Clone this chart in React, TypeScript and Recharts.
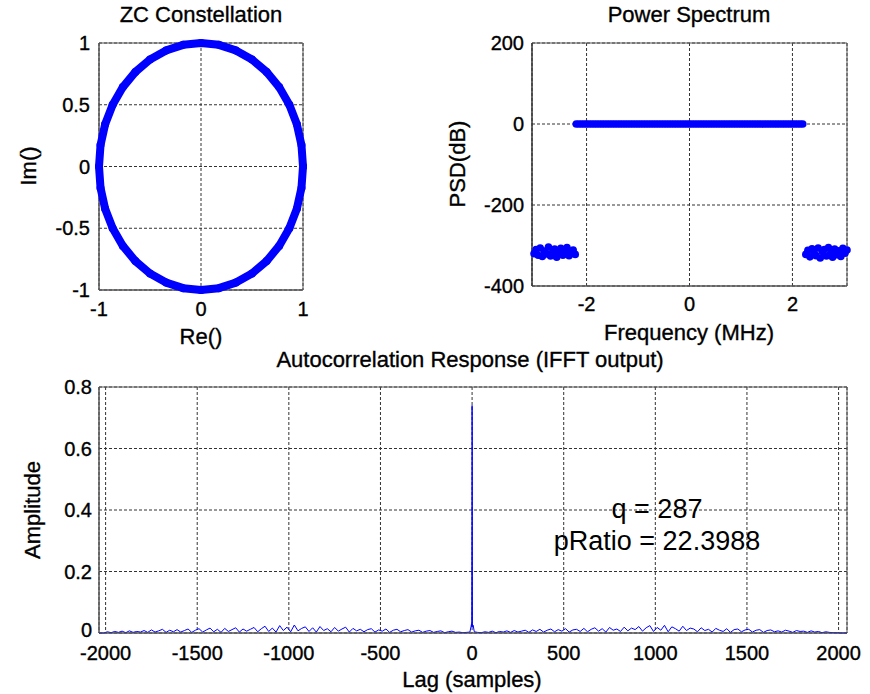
import {
  ScatterChart,
  Scatter,
  LineChart,
  Line,
  XAxis,
  YAxis,
  CartesianGrid,
  ReferenceArea,
} from 'recharts';

const BLUE = '#0000ff';
const GRID = '#333333';
const BOX = '#555555';
const FONT = '"Liberation Sans", Arial, Helvetica, sans-serif';

// ZC constellation: samples on the unit circle
const ZC_RE = [
  1.0, 0.985, 0.94, 0.866, 0.766, 0.643, 0.5, 0.342, 0.174, 0.0, -0.174, -0.342, -0.5,
  -0.643, -0.766, -0.866, -0.94, -0.985, -1.0, -0.985, -0.94, -0.866, -0.766, -0.643,
  -0.5, -0.342, -0.174, 0.0, 0.174, 0.342, 0.5, 0.643, 0.766, 0.866, 0.94, 0.985, 1.0,
];
const ZC_IM = [
  0.0, 0.174, 0.342, 0.5, 0.643, 0.766, 0.866, 0.94, 0.985, 1.0, 0.985, 0.94, 0.866,
  0.766, 0.643, 0.5, 0.342, 0.174, 0.0, -0.174, -0.342, -0.5, -0.643, -0.766, -0.866,
  -0.94, -0.985, -1.0, -0.985, -0.94, -0.866, -0.766, -0.643, -0.5, -0.342, -0.174, 0.0,
];
const RE_TICKS = [-1, 0, 1];
const IM_TICKS = [-1, -0.5, 0, 0.5, 1];

// Power spectrum (MHz / dB)
const FREQ_TICKS = [-2, 0, 2];
const PSD_TICKS = [-400, -200, 0, 200];
const INBAND_START = -2.2;
const INBAND_STEP = 0.05;
const INBAND_PSD = [
  0, 0, 0, 0, 0, 0, 0, 0, 0, 0,
  0, 0, 0, 0, 0, 0, 0, 0, 0, 0,
  0, 0, 0, 0, 0, 0, 0, 0, 0, 0,
  0, 0, 0, 0, 0, 0, 0, 0, 0, 0,
  0, 0, 0, 0, 0, 0, 0, 0, 0, 0,
  0, 0, 0, 0, 0, 0, 0, 0, 0, 0,
  0, 0, 0, 0, 0, 0, 0, 0, 0, 0,
  0, 0, 0, 0, 0, 0, 0, 0, 0, 0,
  0, 0, 0, 0, 0, 0, 0, 0, 0,
];
const OOB_STEP = 0.04;
const LOW_START = -3.02;
const LOW_PSD = [
  -320, -310, -324, -306, -327, -314, -321, -304, -326, -317, -309, -329, -319, -307,
  -324, -313, -305, -325, -318, -311, -322,
];
const HIGH_START = 2.26;
const HIGH_PSD = [
  -322, -312, -328, -308, -318, -325, -306, -331, -315, -310, -326, -305, -320, -329,
  -309, -323, -313, -327, -307, -319, -311,
];

// Autocorrelation (amplitude in thousandths), lag step 20
const LAG_TICKS = [-2000, -1500, -1000, -500, 0, 500, 1000, 1500, 2000];
const AMP_TICKS = [0, 0.2, 0.4, 0.6, 0.8];
const LAG_STEP = 20;
const NEG_START = -2030;
const NEG_AMP = [
  0, 0, 4,
  1, 5, 2, 6, 1, 7, 2, 5, 3,
  8, 2, 10, 3, 7, 12, 2, 9, 4, 11, 3, 8, 13, 2, 9,
  14, 3, 10, 16, 4, 12, 2, 15, 5, 11, 17, 3, 13, 6, 12,
  18, 4, 14, 22, 5, 16, 3, 24, 8, 19, 4, 26, 7, 15, 20,
  5, 17, 3, 21, 8, 14, 4, 18, 6, 13, 19, 3, 15, 7, 12,
  4, 11, 14, 3, 10, 6, 13, 2, 9, 12, 4, 8, 11, 3, 7,
  9, 2, 6, 8, 2, 5, 7, 1, 4, 6, 2, 3, 1, 2,
];
const POS_START = 30;
const POS_AMP = [
  2, 1, 4, 2, 6, 1, 5, 3, 7, 2, 8, 3, 6, 9,
  2, 10, 5, 12, 3, 9, 13, 4, 11, 6, 14, 3, 10, 12, 5,
  15, 4, 12, 17, 6, 14, 3, 18, 9, 13, 5, 19, 7, 16, 11,
  21, 6, 17, 24, 5, 18, 9, 25, 4, 20, 14, 6, 22, 8, 16,
  13, 4, 17, 8, 12, 3, 15, 9, 5, 14, 2, 11, 13, 4, 10,
  12, 3, 9, 11, 2, 8, 10, 4, 7, 3, 9, 6, 2, 8, 5,
  6, 2, 7, 3, 5, 1, 4, 2, 1,
  1, 0, 0,
];
const PEAK_LAGS = [-12, -6, -3, -2, -1, 0, 1, 2, 3, 6, 12];
const PEAK_AMP = [0.003, 0.02, 0.03, 0.02, 0.35, 0.74, 0.62, 0.03, 0.02, 0.025, 0.004];
const LAG_MIN = -2036;
const LAG_MAX = 2046;

const at = (start: number, step: number, i: number) => +(start + i * step).toFixed(3);

const zcData = ZC_RE.map((re, i) => ({ re, im: ZC_IM[i] }));
const inband = INBAND_PSD.map((psd, i) => ({ f: at(INBAND_START, INBAND_STEP, i), psd }));
const lowBand = LOW_PSD.map((psd, i) => ({ f: at(LOW_START, OOB_STEP, i), psd }));
const highBand = HIGH_PSD.map((psd, i) => ({ f: at(HIGH_START, OOB_STEP, i), psd }));

const acData = [
  { lag: LAG_MIN, amp: 0 },
  ...NEG_AMP.map((a, i) => ({ lag: at(NEG_START, LAG_STEP, i), amp: a / 1000 })),
  ...PEAK_LAGS.map((lag, i) => ({ lag, amp: PEAK_AMP[i] })),
  ...POS_AMP.map((a, i) => ({ lag: at(POS_START, LAG_STEP, i), amp: a / 1000 })),
  { lag: LAG_MAX, amp: 0 },
];

const tick = { fontSize: 20, fill: '#000', fontFamily: FONT, stroke: '#000', strokeWidth: 0.35 };
const dot = (props: any) => <circle cx={props.cx} cy={props.cy} r={3.8} fill={BLUE} />;
const ringDot = (props: any) => <circle cx={props.cx} cy={props.cy} r={4} fill={BLUE} />;

// amplitude tick: the "0" sits a touch higher so it clears the "-2000" below it
function AmpTick(props: any) {
  const { x, y, payload } = props;
  const lift = payload.value === 0 ? -3 : 0;
  return (
    <text x={x} y={y + lift} dy="0.355em" textAnchor="end" style={tick}>
      {payload.value}
    </text>
  );
}

export default function App() {
  const labelStyle = { fontFamily: FONT, fontSize: 22, fill: '#000', stroke: '#000', strokeWidth: 0.35 };
  return (
    <div style={{ position: 'absolute', left: 0, top: 0, width: 870, height: 694, background: '#fff' }}>
      {/* ZC constellation */}
      <div style={{ position: 'absolute', left: 0, top: 0 }}>
        <ScatterChart width={320} height={330} margin={{ top: 43, right: 17, bottom: 0, left: 0 }}>
          <CartesianGrid stroke={GRID} strokeDasharray="3 2" />
          <XAxis
            type="number"
            dataKey="re"
            domain={[-1, 1]}
            ticks={RE_TICKS}
            interval={0}
            height={40}
            tick={tick}
            tickSize={0}
            tickMargin={12}
            axisLine={{ stroke: BOX }}
          />
          <YAxis
            type="number"
            dataKey="im"
            domain={[-1, 1]}
            ticks={IM_TICKS}
            interval={0}
            width={99}
            tick={tick}
            tickSize={0}
            tickMargin={9}
            axisLine={{ stroke: BOX }}
          />
          <ReferenceArea x1={-1} x2={1} y1={-1} y2={1} fill="none" stroke={BOX} />
          <Scatter
            data={zcData}
            line={{ stroke: BLUE, strokeWidth: 8, strokeLinejoin: 'round' }}
            shape={ringDot}
            isAnimationActive={false}
          />
        </ScatterChart>
      </div>

      {/* Power spectrum */}
      <div style={{ position: 'absolute', left: 440, top: 0 }}>
        <ScatterChart width={420} height={330} margin={{ top: 43, right: 13, bottom: 0, left: 0 }}>
          <CartesianGrid stroke={GRID} strokeDasharray="3 2" />
          <XAxis
            type="number"
            dataKey="f"
            domain={[-3.06, 3.06]}
            ticks={FREQ_TICKS}
            interval={0}
            height={44}
            tick={tick}
            tickSize={0}
            tickMargin={11}
            axisLine={{ stroke: BOX }}
          />
          <YAxis
            type="number"
            dataKey="psd"
            domain={[-400, 200]}
            ticks={PSD_TICKS}
            interval={0}
            width={92}
            tick={tick}
            tickSize={0}
            tickMargin={8}
            axisLine={{ stroke: '#222' }}
          />
          <ReferenceArea x1={-3.06} x2={3.06} y1={-400} y2={200} fill="none" stroke={BOX} />
          <Scatter data={lowBand} shape={dot} isAnimationActive={false} />
          <Scatter data={inband} shape={dot} isAnimationActive={false} />
          <Scatter data={highBand} shape={dot} isAnimationActive={false} />
        </ScatterChart>
      </div>

      {/* Autocorrelation */}
      <div style={{ position: 'absolute', left: 0, top: 344 }}>
        <LineChart width={870} height={340} data={acData} margin={{ top: 43, right: 23, bottom: 0, left: 0 }}>
          <CartesianGrid stroke={GRID} strokeDasharray="3 2" />
          <XAxis
            type="number"
            dataKey="lag"
            domain={[LAG_MIN, LAG_MAX]}
            ticks={LAG_TICKS}
            interval={0}
            height={51}
            tick={tick}
            tickSize={0}
            tickMargin={13}
            axisLine={{ stroke: BOX }}
          />
          <YAxis
            type="number"
            domain={[0, 0.8]}
            ticks={AMP_TICKS}
            interval={0}
            width={99}
            tick={<AmpTick />}
            tickSize={0}
            tickMargin={7}
            axisLine={{ stroke: BOX }}
          />
          <ReferenceArea x1={LAG_MIN} x2={LAG_MAX} y1={0} y2={0.8} fill="none" stroke={BOX} />
          <Line
            type="linear"
            dataKey="amp"
            stroke={BLUE}
            strokeWidth={1}
            dot={false}
            isAnimationActive={false}
          />
        </LineChart>
      </div>

      {/* Titles, axis labels and annotation */}
      <svg
        width={870}
        height={694}
        style={{ position: 'absolute', left: 0, top: 0, pointerEvents: 'none' }}
      >
        <g style={labelStyle} textAnchor="middle">
          <text x={201} y={22}>ZC Constellation</text>
          <text x={689} y={22}>Power Spectrum</text>
          <text x={201} y={344}>Re()</text>
          <text x={689} y={340}>Frequency (MHz)</text>
          <text transform="translate(36,166) rotate(-90)">Im()</text>
          <text transform="translate(465,164) rotate(-90)">PSD(dB)</text>
          <text x={470} y={367}>Autocorrelation Response (IFFT output)</text>
          <text transform="translate(40,510) rotate(-90)">Amplitude</text>
          <text x={472} y={687}>Lag (samples)</text>
          <text x={657} y={518} style={{ fontSize: 27, strokeWidth: 0 }}>q = 287</text>
          <text x={657} y={550} style={{ fontSize: 27, strokeWidth: 0 }}>pRatio = 22.3988</text>
        </g>
      </svg>
    </div>
  );
}
